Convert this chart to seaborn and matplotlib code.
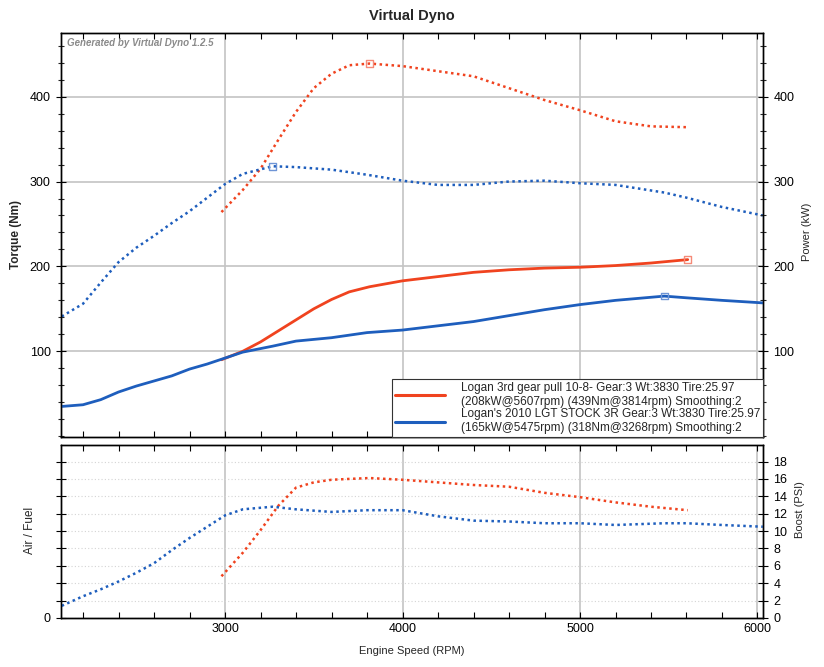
import numpy as np
import matplotlib
matplotlib.use("Agg")
import matplotlib.pyplot as plt
from matplotlib.lines import Line2D
from matplotlib.ticker import MultipleLocator
import seaborn as sns

RED = "#F0431F"
BLUE = "#1E5EBD"
DOT = (0, (1, 1.4))

# run 1: Logan 3rd gear pull
rpm_red = [2980, 3100, 3200, 3300, 3400, 3500, 3600, 3700, 3814, 4000, 4200,
           4400, 4600, 4800, 5000, 5200, 5400, 5607]
torque_red = [264, 290, 315, 349, 382, 410, 427, 437, 439, 436, 430,
              424, 410, 396, 384, 371, 365, 364]
power_red = [90, 100, 111, 124, 137, 150, 161, 170, 176, 183, 188,
             193, 196, 198, 199, 201, 204, 208]
boost_red = [4.8, 7.5, 10.1, 12.9, 15.0, 15.6, 15.9, 16.0, 16.1, 15.9, 15.6,
             15.3, 15.1, 14.4, 13.9, 13.3, 12.8, 12.4]

# run 2: Logan's 2010 LGT stock
rpm_blue = [2080, 2200, 2300, 2400, 2500, 2600, 2700, 2800, 2900, 3000, 3100,
            3268, 3400, 3600, 3800, 4000, 4200, 4400, 4600, 4800, 5000, 5200,
            5475, 5600, 5800, 6030]
torque_blue = [141, 156, 181, 205, 222, 236, 251, 265, 281, 297, 309,
               318, 317, 314, 308, 301, 296, 296, 300, 301, 298, 296,
               287, 281, 270, 260]
power_blue = [35, 37, 43, 52, 59, 65, 71, 79, 85, 92, 99,
              106, 112, 116, 122, 125, 130, 135, 142, 149, 155, 160,
              165, 163, 160, 157]
boost_blue = [1.4, 2.5, 3.3, 4.2, 5.2, 6.3, 7.8, 9.2, 10.5, 11.8, 12.5,
              12.8, 12.5, 12.2, 12.4, 12.4, 11.7, 11.2, 11.1, 10.9, 10.9, 10.7,
              10.9, 10.9, 10.7, 10.5]

# peaks (open square markers)
peak_tq_rpm = [3814, 3268]
peak_tq = [439, 318]
peak_pw_rpm = [5607, 5475]
peak_pw = [208, 165]

legend_labels = [
    "Logan 3rd gear pull 10-8- Gear:3 Wt:3830 Tire:25.97\n(208kW@5607rpm) (439Nm@3814rpm) Smoothing:2",
    "Logan's 2010 LGT STOCK 3R Gear:3 Wt:3830 Tire:25.97\n(165kW@5475rpm) (318Nm@3268rpm) Smoothing:2",
]

sns.set_style("white")
plt.rcParams["font.family"] = ["Liberation Sans", "DejaVu Sans"]

W, H = 824, 667
fig = plt.figure(figsize=(W / 100, H / 100), dpi=100)
ax_t = fig.add_axes([61 / W, 1 - 437 / H, (763 - 61) / W, (437 - 33) / H])
ax_b = fig.add_axes([61 / W, 1 - 618 / H, (763 - 61) / W, (618 - 445) / H])
ax_p = ax_t.twinx()
ax_s = ax_b.twinx()

XLIM = (2076, 6031)
TQLIM = (-1, 475)
BLIM = (0, 19.9)

# top panel: torque dotted, power solid
sns.lineplot(x=rpm_red, y=torque_red, ax=ax_t, color=RED, lw=1.8, linestyle=DOT)
sns.lineplot(x=rpm_blue, y=torque_blue, ax=ax_t, color=BLUE, lw=1.8, linestyle=DOT)
ax_t.scatter(peak_tq_rpm, peak_tq, marker="s", s=22, facecolors="none",
             edgecolors=["#F58A78", "#6F95D6"], linewidths=1, zorder=5)
sns.lineplot(x=rpm_red, y=power_red, ax=ax_p, color=RED, lw=2)
sns.lineplot(x=rpm_blue, y=power_blue, ax=ax_p, color=BLUE, lw=2)
ax_p.scatter(peak_pw_rpm, peak_pw, marker="s", s=22, facecolors="none",
             edgecolors=["#F58A78", "#6F95D6"], linewidths=1, zorder=5)

# bottom panel: boost
sns.lineplot(x=rpm_red, y=boost_red, ax=ax_s, color=RED, lw=1.8, linestyle=DOT)
sns.lineplot(x=rpm_blue, y=boost_blue, ax=ax_s, color=BLUE, lw=1.8, linestyle=DOT)

for a in (ax_t, ax_p, ax_b, ax_s):
    a.set_xlim(*XLIM)
    a.set_xlabel("")
    a.set_ylabel("")
    for sp in a.spines.values():
        sp.set_color("black")
        sp.set_linewidth(1)
    a.xaxis.set_major_locator(MultipleLocator(1000))
    a.xaxis.set_minor_locator(MultipleLocator(200))
    a.tick_params(axis="x", which="both", direction="in", top=True, bottom=True,
                  length=4, width=0.8, labelsize=9, colors="black")
    a.tick_params(axis="y", which="major", direction="inout", length=7, width=0.8,
                  labelsize=9, colors="black", pad=4)
    a.tick_params(axis="y", which="minor", direction="inout", length=5, width=0.8)

for a in (ax_t, ax_p):
    a.set_ylim(*TQLIM)
    a.set_yticks([100, 200, 300, 400])
    a.yaxis.set_minor_locator(MultipleLocator(20))
ax_t.tick_params(axis="x", labelbottom=False)
ax_p.tick_params(axis="x", labelbottom=False)

ax_t.set_axisbelow(True)
ax_t.grid(True, which="major", color="#c4c4c4", lw=1.2, ls="-")

for a in (ax_b, ax_s):
    a.set_ylim(*BLIM)
    a.set_yticks(np.arange(0, 19, 2))
ax_b.set_yticklabels(["0"] + [""] * 9)
ax_b.set_xticks([3000, 4000, 5000, 6000])
ax_b.set_axisbelow(True)
ax_b.grid(True, axis="x", color="#c4c4c4", lw=1.2, ls="-")
ax_b.grid(True, axis="y", color="#d4d4d4", lw=0.8, ls=(0, (1, 2)))

handles = [Line2D([], [], color=RED, lw=2.2), Line2D([], [], color=BLUE, lw=2.2)]
leg = ax_p.legend(handles, legend_labels, loc="lower right", bbox_to_anchor=(1, 0),
                  borderaxespad=0, fontsize=8.5, frameon=True, fancybox=False,
                  handlelength=4.3, labelspacing=0.05, borderpad=0.25,
                  handletextpad=1.3)
leg.get_frame().set_edgecolor("#333333")
leg.get_frame().set_linewidth(0.8)
leg.get_frame().set_alpha(1)

fig.text(0.5, 1 - 16 / H, "Virtual Dyno", ha="center", va="center",
         fontsize=10.5, fontweight="bold")
fig.text(67 / W, 1 - 43 / H, "Generated by Virtual Dyno 1.2.5", ha="left",
         va="center", fontsize=7, style="italic", fontweight="bold", color="#8a8a8a")
fig.text(16 / W, 1 - 235 / H, "Torque (Nm)", rotation=90, ha="center",
         va="center", fontsize=8.5, fontweight="bold")
fig.text(807 / W, 1 - 232 / H, "Power (kW)", rotation=90, ha="center",
         va="center", fontsize=8)
fig.text(30 / W, 1 - 530 / H, "Air / Fuel", rotation=90, ha="center",
         va="center", fontsize=8.5)
fig.text(800 / W, 1 - 510 / H, "Boost (PSI)", rotation=90, ha="center",
         va="center", fontsize=8)
fig.text(412 / W, 1 - 651 / H, "Engine Speed (RPM)", ha="center",
         va="center", fontsize=8)

fig.savefig("out.png", dpi=100)
plt.close(fig)
